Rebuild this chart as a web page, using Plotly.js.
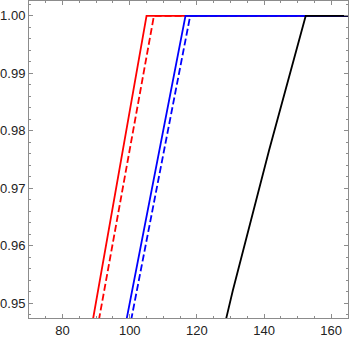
<!DOCTYPE html>
<html>
<head>
<meta charset="utf-8">
<script src="https://cdn.plot.ly/plotly-3.0.1.min.js"></script>
<style>
  html, body { margin: 0; padding: 0; background: #fff; }
  #chart { width: 349px; height: 338px; }
</style>
</head>
<body>
<div id="chart"></div>
<script>
// values
const redSolidX = [89.0, 105.0, 165];
const redSolidY = [0.947, 1.0, 1.0];
const redDashX = [90.8, 107.2, 165];
const redDashY = [0.947, 1.0, 1.0];
const blueSolidX = [99.0, 116.6, 165];
const blueSolidY = [0.947, 1.0, 1.0];
const blueDashX = [100.4, 118.0, 165];
const blueDashY = [0.947, 1.0, 1.0];
const blackX = [128.6, 130.7, 141.5, 152.4, 165];
const blackY = [0.947, 0.9522, 0.9766, 1.0, 1.0];

const xTicks = [80, 100, 120, 140, 160];
const yTicks = [0.95, 0.96, 0.97, 0.98, 0.99, 1.00];

function line(x, y, color, dash) {
  return {
    x: x, y: y,
    type: 'scatter', mode: 'lines',
    line: { color: color, width: 1.8, dash: dash || 'solid' },
    showlegend: false, hoverinfo: 'skip',
  };
}

const traces = [
  line(redSolidX, redSolidY, '#ff0000'),
  line(redDashX, redDashY, '#ff0000', '7px,3px'),
  line(blueSolidX, blueSolidY, '#0000ff'),
  line(blueDashX, blueDashY, '#0000ff', '7px,3px'),
  line(blackX, blackY, '#000000'),
];

const axisBase = {
  showline: true, mirror: 'ticks', linecolor: '#8c8c8c', linewidth: 1,
  ticks: 'inside', ticklen: 4, tickcolor: '#8c8c8c', tickwidth: 1,
  showgrid: false, zeroline: false,
  tickfont: { family: 'Liberation Sans, Arial, sans-serif', size: 13, color: '#222' },
};

const layout = {
  width: 349, height: 338,
  margin: { t: 1, r: 1, b: 20, l: 29 },
  paper_bgcolor: '#fff', plot_bgcolor: '#fff',
  xaxis: {
    ...axisBase,
    range: [70, 165],
    tickvals: xTicks,
    minor: { dtick: 5, tick0: 0, ticks: 'inside', ticklen: 2, tickcolor: '#8c8c8c' },
  },
  yaxis: {
    ...axisBase,
    range: [0.9474, 1.0026],
    tickvals: yTicks,
    tickformat: '.2f',
    minor: { dtick: 0.002, tick0: 0, ticks: 'inside', ticklen: 2, tickcolor: '#8c8c8c' },
  },
};

Plotly.newPlot('chart', traces, layout, { displayModeBar: false, staticPlot: true });
</script>
</body>
</html>
